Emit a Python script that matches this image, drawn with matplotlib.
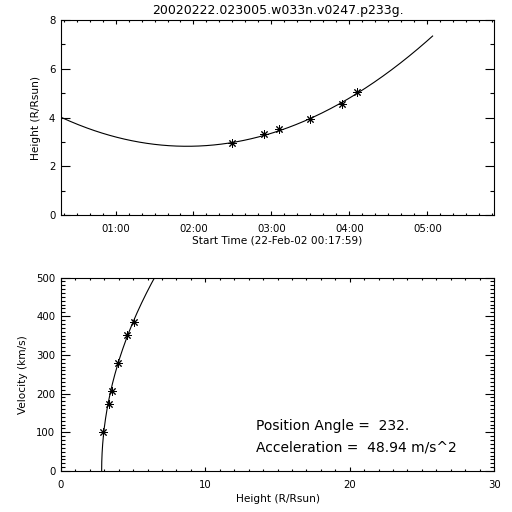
import matplotlib
matplotlib.use("Agg")
import matplotlib.pyplot as plt
from matplotlib.ticker import MultipleLocator, FuncFormatter
import numpy as np

# Data
title = "20020222.023005.w033n.v0247.p233g."
start_label = "22-Feb-02 00:17:59"
times = ["02:30", "02:54", "03:06", "03:30", "03:54", "04:06"]
heights = [2.94, 3.32, 3.52, 3.93, 4.55, 5.05]      # R/Rsun
velocities = [101, 172, 207, 279, 351, 386]         # km/s
pos_angle = "232."
accel = "48.94"                                     # m/s^2, from the label

# fitted curve as seen in the picture (vertex + acceleration)
fit_vertex_time = "01:55"
fit_vertex_height = 2.82
fit_end = "05:04"

def to_hours(s):
    parts = [int(p) for p in s.split(":")]
    while len(parts) < 3:
        parts.append(0)
    return parts[0] + parts[1] / 60 + parts[2] / 3600

t_start = to_hours(start_label.split()[1])
t_obs = np.array([to_hours(s) for s in times])

rsun_km = 696000.0
a_rsun_h2 = float(accel) * 3600.0 ** 2 / (rsun_km * 1000.0)   # R/Rsun per h^2
t0 = to_hours(fit_vertex_time)
t_fit = np.linspace(t_start, to_hours(fit_end), 300)
h_fit = fit_vertex_height + 0.5 * a_rsun_h2 * (t_fit - t0) ** 2
v_fit = a_rsun_h2 * (t_fit - t0) * rsun_km / 3600.0

plt.rcParams['font.family'] = 'DejaVu Sans'
fig = plt.figure(figsize=(5.12, 5.12), dpi=100)

def idl_axes(ax, xmaj, xmin, ymaj, ymin, xlen, ylen):
    ax.tick_params(which='both', direction='in', top=True, right=True,
                   labelsize=7.3, width=0.8)
    ax.tick_params(axis='x', which='major', length=xlen, pad=6.5)
    ax.tick_params(axis='x', which='minor', length=xlen / 2)
    ax.tick_params(axis='y', which='major', length=ylen, pad=4)
    ax.tick_params(axis='y', which='minor', length=ylen / 2)
    ax.xaxis.set_major_locator(MultipleLocator(xmaj))
    ax.xaxis.set_minor_locator(MultipleLocator(xmin))
    ax.yaxis.set_major_locator(MultipleLocator(ymaj))
    ax.yaxis.set_minor_locator(MultipleLocator(ymin))
    for s in ax.spines.values():
        s.set_linewidth(0.8)

ast = (8, 2, 0)

# top panel: height vs time
ax1 = fig.add_axes([0.119, 0.580, 0.846, 0.381])
ax1.plot(t_fit, h_fit, color='black', lw=0.8)
ax1.plot(t_obs, heights, ls='none', marker=ast, ms=6, mew=0.7, color='black')
ax1.set_xlim(t_start, t_start + 20000 / 3600)
ax1.set_ylim(0, 8)
idl_axes(ax1, 1, 1 / 6, 2, 1, 2.8, 6.2)
ax1.xaxis.set_major_formatter(FuncFormatter(
    lambda v, p: "%02d:%02d" % (int(round(v * 60)) // 60, int(round(v * 60)) % 60)))
ax1.set_title(title, fontsize=9, pad=4)
ax1.set_xlabel("Start Time (" + start_label + ")", fontsize=7.6, labelpad=1)
ax1.set_ylabel("Height (R/Rsun)", fontsize=7.6, labelpad=6)

# bottom panel: velocity vs height
ax2 = fig.add_axes([0.119, 0.080, 0.846, 0.378])
ax2.plot(h_fit, v_fit, color='black', lw=0.8)
ax2.plot(heights, velocities, ls='none', marker=ast, ms=6, mew=0.7, color='black')
ax2.set_xlim(0, 30)
ax2.set_ylim(0, 500)
idl_axes(ax2, 10, 1, 100, 10, 2.8, 6.2)
ax2.set_xlabel("Height (R/Rsun)", fontsize=7.6, labelpad=3)
ax2.set_ylabel("Velocity (km/s)", fontsize=7.6, labelpad=6)
ax2.text(13.5, 117, "Position Angle =  " + pos_angle, fontsize=10, va='center')
ax2.text(13.5, 60, "Acceleration =  " + accel + " m/s^2", fontsize=10, va='center')

fig.savefig("out.png", dpi=100)
